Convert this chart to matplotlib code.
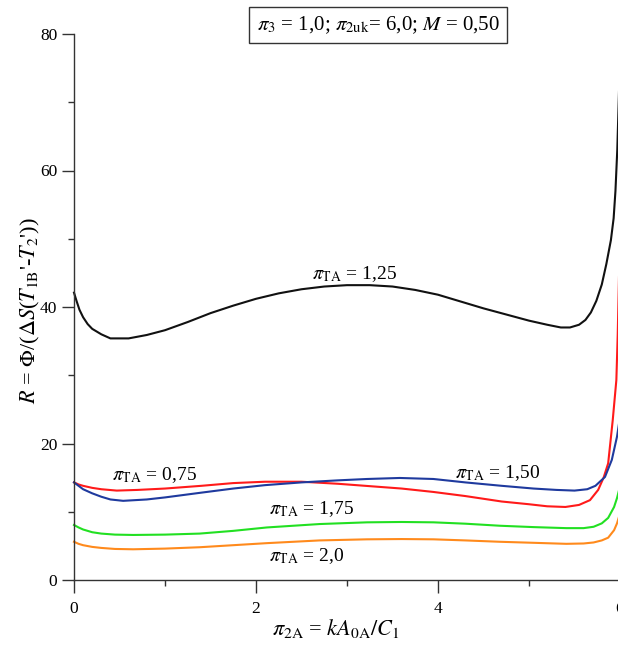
import numpy as np
import matplotlib
matplotlib.use('Agg')
import matplotlib.pyplot as plt

plt.rcParams['font.family'] = ['Liberation Serif', 'DejaVu Serif']
plt.rcParams['mathtext.fontset'] = 'stix'

# pi_TA = 1.25 (black)
x_125 = [0, 0.03, 0.06, 0.1, 0.15, 0.2, 0.3, 0.4, 0.6, 0.8, 1.0, 1.25, 1.5, 1.75, 2.0, 2.25,
         2.5, 2.75, 3.0, 3.25, 3.5, 3.75, 4.0, 4.25, 4.5, 4.75, 5.0, 5.2, 5.35,
         5.45, 5.55, 5.62, 5.68, 5.74, 5.8, 5.85, 5.9, 5.93, 5.95, 5.97, 5.99]
y_125 = [42.1, 40.8, 39.6, 38.5, 37.5, 36.8, 36.0, 35.4, 35.4, 35.9, 36.6, 37.8, 39.1, 40.2, 41.2, 42.0,
         42.6, 43.0, 43.2, 43.2, 43.0, 42.5, 41.8, 40.8, 39.8, 38.9, 38.0, 37.4, 37.0,
         37.0, 37.4, 38.1, 39.2, 40.9, 43.3, 46.3, 49.8, 53.0, 57.0, 63.0, 72.0]

# pi_TA = 0.75 (red)
x_075 = [0, 0.05, 0.1, 0.2, 0.3, 0.47, 0.7, 1.0, 1.4, 1.75, 2.1, 2.5, 2.9, 3.2, 3.6, 3.95,
         4.3, 4.7, 5.0, 5.2, 5.4, 5.55, 5.67, 5.76, 5.82, 5.87, 5.92, 5.96, 5.975, 5.99]
y_075 = [14.3, 14.0, 13.8, 13.5, 13.3, 13.1, 13.2, 13.4, 13.8, 14.2, 14.4, 14.4, 14.1, 13.8, 13.4, 12.9,
         12.3, 11.5, 11.1, 10.8, 10.7, 11.0, 11.7, 13.2, 15.0, 17.1, 23.4, 29.3, 36.0, 45.0]

# pi_TA = 1.50 (blue)
x_150 = [0, 0.05, 0.1, 0.2, 0.3, 0.4, 0.54, 0.8, 1.0, 1.4, 1.75, 2.1, 2.5, 2.9, 3.22, 3.58, 3.95,
         4.3, 4.7, 5.05, 5.3, 5.5, 5.64, 5.73, 5.835, 5.91, 5.967, 5.99]
y_150 = [14.3, 13.8, 13.3, 12.7, 12.2, 11.8, 11.6, 11.8, 12.1, 12.8, 13.4, 13.9, 14.3, 14.6, 14.8, 14.95, 14.8,
         14.3, 13.8, 13.4, 13.2, 13.1, 13.3, 13.8, 15.1, 17.6, 21.0, 23.0]

# pi_TA = 1.75 (green)
x_175 = [0, 0.05, 0.1, 0.2, 0.3, 0.45, 0.65, 1.0, 1.38, 1.75, 2.12, 2.7, 3.22, 3.6, 3.95, 4.3,
         4.68, 5.05, 5.41, 5.6, 5.71, 5.8, 5.87, 5.935, 5.967, 5.99]
y_175 = [8.06, 7.7, 7.4, 7.0, 6.8, 6.65, 6.6, 6.65, 6.8, 7.2, 7.7, 8.2, 8.45, 8.5, 8.45, 8.25,
         7.95, 7.75, 7.6, 7.6, 7.8, 8.3, 9.1, 10.7, 12.0, 13.2]

# pi_TA = 2.0 (orange)
x_200 = [0, 0.05, 0.1, 0.2, 0.3, 0.45, 0.65, 1.0, 1.38, 1.75, 2.12, 2.7, 3.22, 3.6, 3.95, 4.3,
         4.68, 5.05, 5.41, 5.6, 5.71, 5.8, 5.87, 5.935, 5.967, 5.99]
y_200 = [5.6, 5.3, 5.1, 4.85, 4.7, 4.55, 4.5, 4.6, 4.8, 5.1, 5.4, 5.8, 5.96, 6.0, 5.96, 5.8,
         5.6, 5.45, 5.3, 5.35, 5.5, 5.8, 6.2, 7.3, 8.3, 9.3]

series = [
    (x_125, y_125, '#111111'),
    (x_075, y_075, '#ff1a1a'),
    (x_150, y_150, '#1f3a9e'),
    (x_175, y_175, '#22e022'),
    (x_200, y_200, '#ff8a1c'),
]

fig = plt.figure(figsize=(6.18, 6.46), dpi=100)
ax = fig.add_axes([74 / 618, 1 - 580 / 646, 546 / 618, 546 / 646])

for xs, ys, c in series:
    ax.plot(xs, ys, color=c, lw=1.5, clip_on=False, solid_joinstyle='round')

ax.set_xlim(0, 6)
ax.set_ylim(0, 80)
ax.set_xticks([0, 2, 4, 6])
ax.set_xticks([1, 3, 5], minor=True)
ax.set_yticks([0, 20, 40, 60, 80])
ax.set_yticks([10, 30, 50, 70], minor=True)
ax.set_xticklabels(['0', '2', '4', '6'])

for s in ['top', 'right']:
    ax.spines[s].set_visible(False)
for s in ['left', 'bottom']:
    ax.spines[s].set_color('#333333')
    ax.spines[s].set_linewidth(1.0)

ax.tick_params(which='major', length=9, width=1.0, color='#333333', labelsize=12.5)
ax.tick_params(which='minor', length=4.5, width=1.0, color='#333333')
ax.tick_params(axis='x', which='major', pad=6)
ax.tick_params(axis='y', which='major', pad=3)

lab = dict(fontsize=14, color='black')
ax.text(0.42, 13.9, r'$\pi_{\mathrm{TA}}$ = 0,75', ha='left', va='bottom', **lab)
ax.text(3.08, 43.3, r'$\pi_{\mathrm{TA}}$ = 1,25', ha='center', va='bottom', **lab)
ax.text(4.19, 14.2, r'$\pi_{\mathrm{TA}}$ = 1,50', ha='left', va='bottom', **lab)
ax.text(2.14, 9.0, r'$\pi_{\mathrm{TA}}$ = 1,75', ha='left', va='bottom', **lab)
ax.text(2.14, 4.9, r'$\pi_{\mathrm{TA}}$ = 2,0', ha='left', va='top', **lab)

fig.text(378 / 618, 1 - 25 / 646,
         r'$\pi_3$ = 1,0; $\pi_{\mathrm{2uk}}$= 6,0; $M$ = 0,50',
         ha='center', va='center', fontsize=15,
         bbox=dict(boxstyle='square,pad=0.35', fc='white', ec='#333333', lw=1.0))

fig.text(336 / 618, 1 - 628 / 646, r'$\pi_{\mathrm{2A}}$ = $kA_{\mathrm{0A}}/C_1$',
         ha='center', va='center', fontsize=16)
fig.text(30 / 618, 1 - 311 / 646,
         r"$R$ = $\Phi$/($\Delta S$($T_{\mathrm{1B}}$'-$T_{2}$'))",
         ha='center', va='center', rotation=90, fontsize=16)

fig.savefig('out.png', dpi=100)
